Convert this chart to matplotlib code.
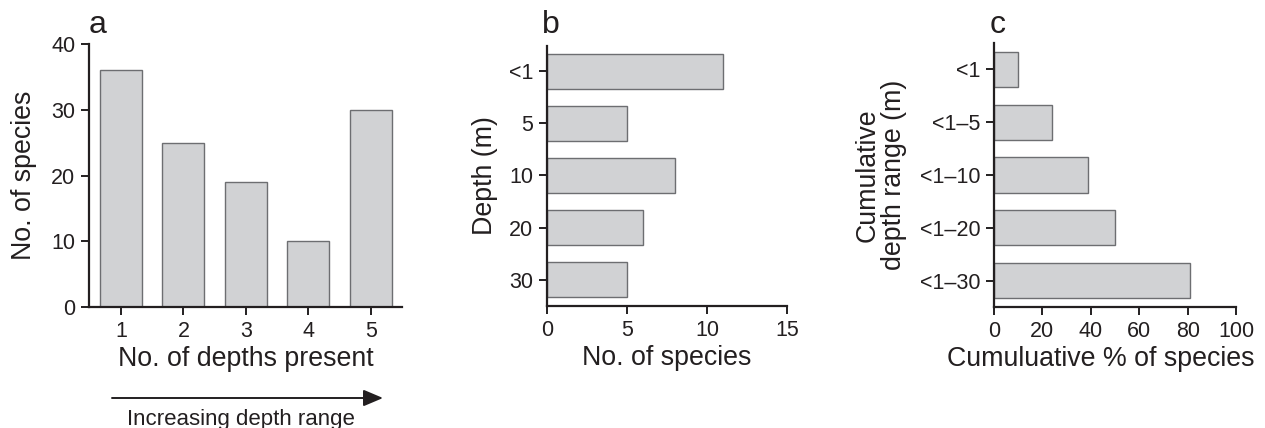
import matplotlib
matplotlib.use("Agg")
import matplotlib.pyplot as plt
import numpy as np

plt.rcParams['font.family'] = ['Liberation Sans', 'DejaVu Sans']

# Panel a
a_categories = [1, 2, 3, 4, 5]
a_values = [36, 25, 19, 10, 30]
# Panel b
b_labels = ['<1', '5', '10', '20', '30']
b_values = [11, 5, 8, 6, 5]
# Panel c
c_labels = ['<1', '<1\u20135', '<1\u201310', '<1\u201320', '<1\u201330']
c_values = [10, 24, 39, 50, 81]

FILL = '#d1d2d4'
EDGE = '#6d6e71'
TXT = '#231f20'
TICK_FS = 15.5
LAB_FS = 19.3

fig = plt.figure(figsize=(12.65, 4.28), dpi=100)

def style(ax):
    for s in ['top', 'right']:
        ax.spines[s].set_visible(False)
    for s in ['left', 'bottom']:
        ax.spines[s].set_linewidth(1.6)
        ax.spines[s].set_color(TXT)
    ax.tick_params(direction='out', length=6, width=1.4, color=TXT,
                   labelsize=TICK_FS, labelcolor=TXT, pad=4)

# Panel a
axa = fig.add_axes([0.0704, 0.2827, 0.2474, 0.6143])
axa.bar(a_categories, a_values, width=0.67, color=FILL, edgecolor=EDGE, linewidth=1.0)
axa.set_xlim(0.49, 5.5)
axa.set_ylim(0, 40)
axa.set_xticks(a_categories)
axa.set_yticks([0, 10, 20, 30, 40])
axa.set_xlabel('No. of depths present', fontsize=LAB_FS, color=TXT, labelpad=3)
axa.set_ylabel('No. of species', fontsize=LAB_FS, color=TXT, labelpad=10)
style(axa)

# Panel b
axb = fig.add_axes([0.4324, 0.285, 0.1897, 0.6075])
yb = np.arange(len(b_labels))
axb.barh(yb, b_values, height=0.67, color=FILL, edgecolor=EDGE, linewidth=1.0)
axb.set_ylim(4.5, -0.48)
axb.set_xlim(0, 15)
axb.set_yticks(yb)
axb.set_yticklabels(b_labels)
axb.set_xticks([0, 5, 10, 15])
axb.set_xlabel('No. of species', fontsize=LAB_FS, color=TXT, labelpad=3)
axb.set_ylabel('Depth (m)', fontsize=LAB_FS, color=TXT, labelpad=8)
style(axb)

# Panel c
axc = fig.add_axes([0.7858, 0.2827, 0.1913, 0.6168])
yc = np.arange(len(c_labels))
axc.barh(yc, c_values, height=0.67, color=FILL, edgecolor=EDGE, linewidth=1.0)
axc.set_ylim(4.5, -0.5)
axc.set_xlim(0, 100)
axc.set_yticks(yc)
axc.set_yticklabels(c_labels)
axc.set_xticks([0, 20, 40, 60, 80, 100])
axc.set_xlabel('Cumuluative % of species', fontsize=LAB_FS, color=TXT, labelpad=3)
axc.set_ylabel('Cumulative\ndepth range (m)', fontsize=LAB_FS, color=TXT, labelpad=9,
               linespacing=1.0)
style(axc)
fig.canvas.draw()
# shift panel c x-label left so it fits within the figure (as in the reference)
axc.xaxis.set_label_coords(0.44, axc.transAxes.inverted().transform(
    axc.xaxis.label.get_window_extent().get_points().mean(axis=0))[1])
axc.xaxis.label.set_va('center')

# Panel letters
fig.text(89/1265, 1 - 33/428, 'a', fontsize=23, color=TXT, ha='left', va='baseline')
fig.text(542/1265, 1 - 33/428, 'b', fontsize=23, color=TXT, ha='left', va='baseline')
fig.text(990/1265, 1 - 33/428, 'c', fontsize=23, color=TXT, ha='left', va='baseline')

# Arrow
fig.add_artist(matplotlib.patches.FancyArrowPatch(
    (112/1265, 1 - 398/428), (383/1265, 1 - 398/428),
    transform=fig.transFigure, arrowstyle='-|>,head_length=0.85,head_width=0.36',
    mutation_scale=14, color=TXT, linewidth=1.4, shrinkA=0, shrinkB=0))
fig.text(241/1265, 1 - 425/428, 'Increasing depth range', fontsize=16, color=TXT,
         ha='center', va='baseline')

fig.savefig('out.png', dpi=100)
